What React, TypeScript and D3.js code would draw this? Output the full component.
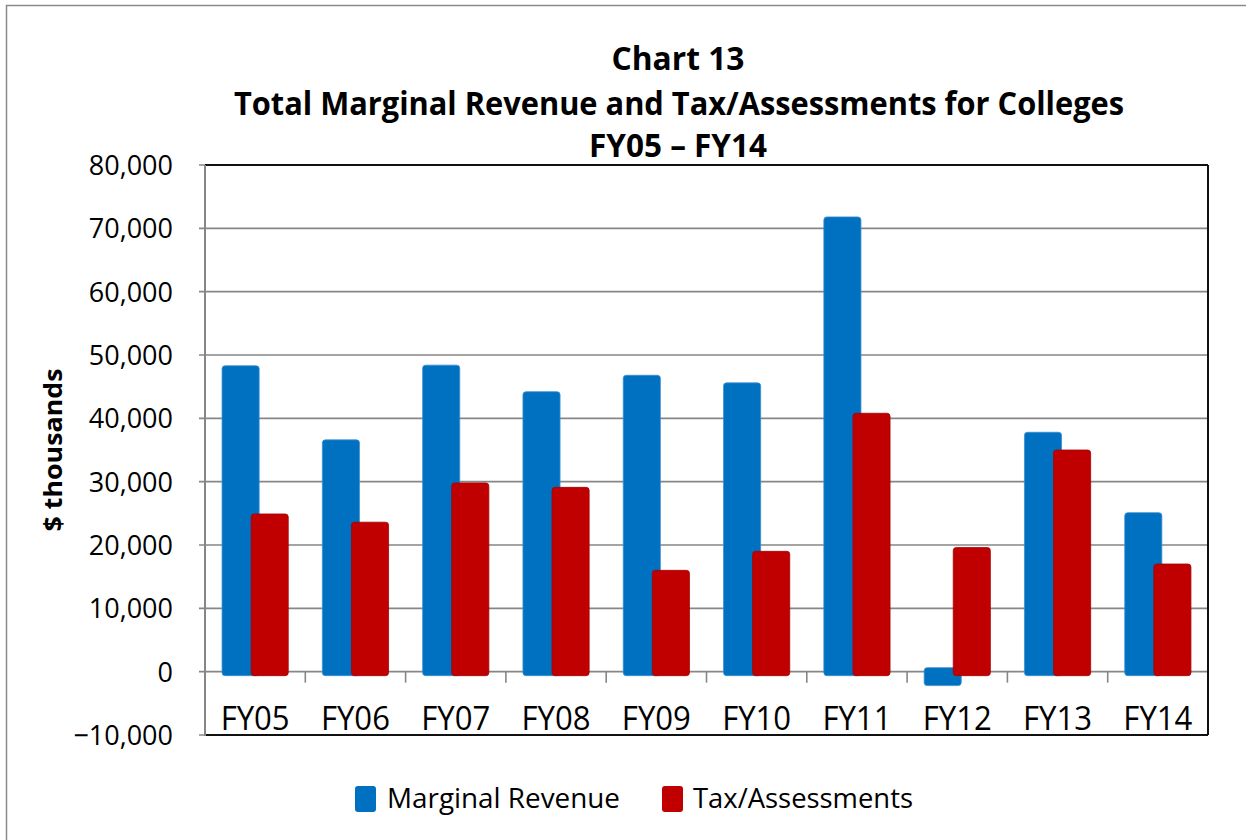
import React from "react";
import * as d3 from "d3";

const categories = ["FY05", "FY06", "FY07", "FY08", "FY09", "FY10", "FY11", "FY12", "FY13", "FY14"];
const marginalRevenue = [48300, 36600, 48400, 44200, 46800, 45600, 71800, -2200, 37800, 25100];
const taxAssessments = [24900, 23600, 29800, 29100, 16000, 19000, 40800, 19600, 35000, 17000];
const yTicks = [-10000, 0, 10000, 20000, 30000, 40000, 50000, 60000, 70000, 80000];
const seriesNames = ["Marginal Revenue", "Tax/Assessments"];
const titleLines = ["Chart 13", "Total Marginal Revenue and Tax/Assessments for Colleges", "FY05 \u2013 FY14"];
const yAxisTitle = "$ thousands";

const W = 1246;
const H = 840;
const plot = { left: 205, right: 1208, top: 165, bottom: 735 };
const BLUE = "#0070C0";
const RED = "#C00000";
const FONT = "'Open Sans', 'Noto Sans', sans-serif";

export default function App() {
  const x = d3.scaleBand<string>().domain(categories).range([plot.left, plot.right]).padding(0);
  const y = d3.scaleLinear().domain([-10000, 80000]).range([plot.bottom, plot.top]);
  const bw = x.bandwidth();
  const barW = bw * 0.37;
  const offset = bw * 0.29;
  const ext = 4;
  const fmt = d3.format(",");
  const y0 = y(0);

  const barPath = (xl: number, val: number) => {
    const yv = y(val);
    if (val >= 0) {
      return { x: xl, y: yv, h: y0 + ext - yv };
    }
    return { x: xl, y: y0 - ext, h: yv - (y0 - ext) };
  };

  const series = [
    { name: seriesNames[0], values: marginalRevenue, color: BLUE, stroke: "#3b8fd0", dx: 0 },
    { name: seriesNames[1], values: taxAssessments, color: RED, stroke: "#a80000", dx: offset },
  ];

  return (
    <svg width={W} height={H} style={{ position: "absolute", left: 0, top: 0, display: "block" }} fontFamily={FONT}>
      <rect x={0} y={0} width={W} height={H} fill="#fff" />
      <rect x={6.5} y={5.5} width={1300} height={900} fill="none" stroke="#8a8a8a" strokeWidth={1.5} />

      {/* titles */}
      <text x={678} y={70} textAnchor="middle" fontWeight="bold" fontSize={32} textLength={133} lengthAdjust="spacingAndGlyphs">{titleLines[0]}</text>
      <text x={679} y={115} textAnchor="middle" fontWeight="bold" fontSize={32} textLength={890} lengthAdjust="spacingAndGlyphs">{titleLines[1]}</text>
      <text x={678} y={157} textAnchor="middle" fontWeight="bold" fontSize={32} textLength={178} lengthAdjust="spacingAndGlyphs">{titleLines[2]}</text>

      {/* gridlines */}
      {yTicks.map((t) => (
        <line key={"g" + t} x1={plot.left - 6} x2={plot.right} y1={y(t)} y2={y(t)} stroke="#868686" strokeWidth={1.6} />
      ))}

      {/* x tick marks */}
      {categories.map((c) => (
        <line key={"xt" + c} x1={(x(c) as number) + bw} x2={(x(c) as number) + bw} y1={y0} y2={y0 + 11} stroke="#868686" strokeWidth={1.6} />
      ))}

      {/* bars */}
      {series.map((s) =>
        categories.map((c, i) => {
          const cx = (x(c) as number) + bw / 2;
          const xl = cx - (barW + offset) / 2 + s.dx;
          const b = barPath(xl, s.values[i]);
          return (
            <rect key={s.name + c} x={b.x} y={b.y} width={barW} height={b.h} rx={3} ry={3} fill={s.color} stroke={s.stroke} strokeWidth={0.8} />
          );
        })
      )}

      {/* plot frame */}
      <line x1={plot.left} x2={plot.right} y1={plot.top} y2={plot.top} stroke="#111" strokeWidth={2} />
      <line x1={plot.right} x2={plot.right} y1={plot.top} y2={plot.bottom} stroke="#111" strokeWidth={2} />
      <line x1={plot.left} x2={plot.right} y1={plot.bottom} y2={plot.bottom} stroke="#111" strokeWidth={2} />
      <line x1={plot.left} x2={plot.left} y1={plot.top} y2={plot.bottom + 1} stroke="#868686" strokeWidth={2} />

      {/* y tick labels */}
      {yTicks.map((t) => (
        <text key={"yl" + t} x={173} y={y(t) + 10} textAnchor="end" fontSize={27}>{fmt(t)}</text>
      ))}

      {/* x labels */}
      {categories.map((c) => (
        <text key={"xl" + c} x={(x(c) as number) + bw / 2} y={730} textAnchor="middle" fontSize={32} textLength={69} lengthAdjust="spacingAndGlyphs">{c}</text>
      ))}

      {/* y axis title */}
      <text transform={`translate(62,450) rotate(-90)`} textAnchor="middle" fontWeight="bold" fontSize={25} textLength={163} lengthAdjust="spacingAndGlyphs">{yAxisTitle}</text>

      {/* legend */}
      <rect x={355} y={786} width={21} height={26} rx={3} fill={BLUE} />
      <text x={387} y={808} fontSize={27} textLength={233} lengthAdjust="spacingAndGlyphs">{seriesNames[0]}</text>
      <rect x={662} y={786} width={21} height={26} rx={3} fill={RED} />
      <text x={693} y={808} fontSize={27} textLength={220} lengthAdjust="spacingAndGlyphs">{seriesNames[1]}</text>
    </svg>
  );
}
